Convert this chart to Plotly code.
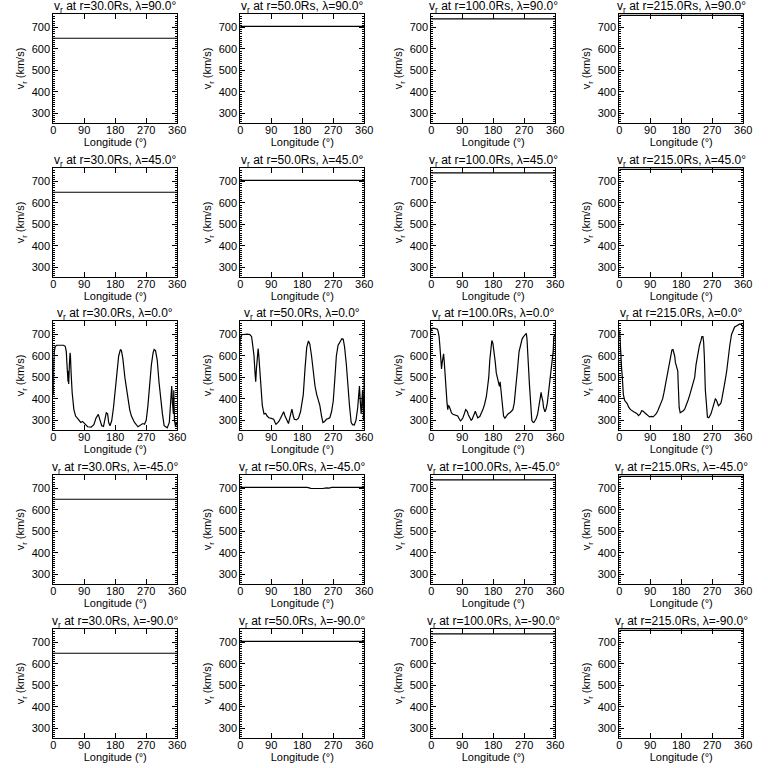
import plotly.graph_objects as go

radii = ["30.0", "50.0", "100.0", "215.0"]
lats = ["90.0", "45.0", "0.0", "-45.0", "-90.0"]

# flat-profile levels (km/s) per radius for the non-equatorial latitudes
flat_lon = [0, 360]
flat_level = {
    "30.0": 650, "50.0": 705, "100.0": 740, "215.0": 757,
}
# slight dip seen at lat -45, r=50
m45_r50_lon = [0, 195, 205, 215, 240, 250, 258, 265, 360]
m45_r50_v = [705, 705, 701, 700, 700, 703, 702, 705, 705]

# equatorial profiles
eq_r30_lon = [0, 0.5, 1.5, 3, 6, 10, 30, 35, 38, 40, 41, 43, 44, 45, 47, 49, 50, 52, 55, 60, 65, 70, 75, 80, 85,
              90, 95, 100, 110, 118, 124, 128, 131, 136, 141, 146, 150, 154, 158, 161, 165, 170, 175, 180, 185, 190,
              195, 198, 202, 208, 212, 217, 222, 227, 236, 246, 255, 260, 265, 270, 275, 280, 285, 290, 293, 297,
              302, 307, 312, 317, 322, 331, 337, 341, 344, 346, 349, 350, 352, 355, 358, 360]
eq_r30_v = [500, 420, 560, 620, 645, 650, 650, 645, 620, 560, 500, 480, 530, 470, 560, 615, 600, 520, 430, 350, 320,
            310, 300, 290, 295, 285, 280, 270, 268, 280, 310, 325, 328, 300, 275, 272, 300, 335, 330, 290, 275, 300,
            360, 430, 520, 600, 630, 625, 590, 500, 450, 400, 350, 320, 290, 270, 280, 285, 282, 300, 370, 470, 560,
            615, 630, 625, 580, 480, 400, 330, 275, 265, 290, 370, 460, 380, 330, 440, 300, 270, 290, 280]

eq_r50_lon = [0, 0.5, 1.5, 3, 6, 10, 20, 28, 33, 37, 40, 43, 45, 47, 50, 52, 54, 57, 59, 62, 64, 69, 74, 78, 83,
              88, 93, 97, 101, 104, 108, 112, 117, 122, 126, 130, 136, 140, 145, 150, 154, 157, 163, 169, 175, 179,
              183, 188, 193, 198, 202, 207, 212, 217, 222, 226, 231, 236, 240, 245, 250, 255, 260, 265, 270, 274,
              279, 284, 290, 295, 299, 303, 308, 312, 317, 322, 326, 331, 336, 341, 344, 346, 348, 351, 353, 355,
              357, 358, 359, 360]
eq_r50_v = [650, 690, 680, 695, 700, 700, 702, 700, 690, 640, 600, 520, 480, 540, 630, 635, 600, 530, 470, 410, 370,
            330, 332, 320, 312, 310, 308, 305, 290, 282, 288, 295, 310, 330, 340, 320, 295, 285, 320, 352, 320, 305,
            302, 310, 340, 380, 420, 540, 640, 670, 655, 600, 520, 460, 420, 395, 370, 320, 290, 295, 305, 308, 312,
            340, 390, 480, 600, 650, 668, 680, 678, 640, 560, 450, 370, 290, 280, 278, 300, 360, 430, 460, 400, 330,
            380, 440, 350, 300, 360, 510]

eq_r100_lon = [0, 2, 6, 12, 18, 20, 23, 25, 27, 30, 32, 34, 36, 38, 39, 41, 43, 46, 48, 50, 53, 55, 59, 63, 68, 73,
               77, 82, 85, 88, 92, 96, 100, 103, 105, 108, 112, 116, 119, 123, 128, 132, 135, 141, 145, 150, 155, 160,
               164, 167, 170, 173, 176, 179, 182, 186, 189, 192, 194, 196, 198, 200, 202, 205, 208, 210, 214, 218,
               223, 230, 237, 241, 246, 250, 255, 260, 264, 268, 273, 276, 278, 280, 282, 285, 287, 290, 292, 295,
               298, 301, 305, 309, 313, 316, 319, 321, 324, 326, 328, 330, 333, 337, 342, 346, 351, 354, 356, 358,
               360]
eq_r100_v = [715, 728, 730, 728, 725, 715, 690, 650, 600, 540, 570, 600, 610, 570, 540, 500, 450, 380, 350, 370,
             362, 350, 335, 328, 325, 322, 320, 305, 298, 302, 312, 330, 350, 345, 340, 325, 310, 300, 305, 325, 342,
             325, 312, 318, 330, 350, 375, 410, 460, 500, 580, 640, 672, 660, 630, 570, 520, 495, 480, 470, 458, 480,
             440, 400, 360, 320, 310, 318, 330, 338, 350, 380, 450, 530, 620, 660, 680, 690, 700, 705, 680, 640, 560,
             470, 400, 340, 300, 292, 290, 298, 310, 330, 370, 400, 430, 410, 390, 360, 340, 340, 350, 380, 450, 500,
             560, 620, 690, 700, 700]

eq_r215_lon = [0, 1, 2, 3, 5, 7, 9, 12, 16, 23, 28, 33, 42, 51, 56, 61, 65, 70, 74, 79, 84, 88, 93, 98, 102, 107,
               112, 116, 121, 126, 130, 135, 140, 145, 149, 153, 156, 158, 161, 163, 166, 170, 171, 172, 174, 177,
               181, 186, 190, 195, 200, 205, 210, 214, 219, 223, 228, 233, 237, 240, 243, 245, 247, 248, 250, 253,
               256, 260, 263, 266, 270, 273, 276, 279, 282, 284, 286, 288, 291, 295, 298, 302, 307, 312, 316, 321,
               326, 330, 335, 340, 345, 349, 353, 356, 358, 360]
eq_r215_v = [700, 715, 690, 640, 600, 540, 500, 420, 392, 378, 360, 350, 340, 332, 322, 330, 345, 342, 335, 328,
             318, 316, 318, 316, 322, 330, 345, 360, 380, 400, 430, 470, 520, 560, 600, 628, 630, 620, 600, 570, 550,
             530, 480, 410, 360, 335, 338, 345, 352, 370, 395, 420, 450, 470, 500, 560, 610, 650, 670, 690, 690, 665,
             600, 500, 440, 380, 315, 312, 320, 330, 350, 365, 380, 400, 395, 385, 370, 368, 372, 380, 400, 430, 480,
             530, 600, 650, 700, 720, 735, 740, 745, 748, 748, 745, 740, 730]

eq_data = {
    "30.0": (eq_r30_lon, eq_r30_v),
    "50.0": (eq_r50_lon, eq_r50_v),
    "100.0": (eq_r100_lon, eq_r100_v),
    "215.0": (eq_r215_lon, eq_r215_v),
}

x_ticks = [0, 90, 180, 270, 360]
y_ticks = [300, 400, 500, 600, 700]
y_range = [255, 763]

# panel pixel geometry (window pixels)
col_left = [51, 241, 435, 626]
col_w = 126
row_top = [14, 168, 321, 475, 629]
row_h = 109
W = H = 768

FONT = "Liberation Sans"
fig = go.Figure()

k = 0
for i, lat in enumerate(lats):
    for j, r in enumerate(radii):
        k += 1
        xa = "x" if k == 1 else f"x{k}"
        ya = "y" if k == 1 else f"y{k}"
        if lat == "0.0":
            lon, v = eq_data[r]
        elif lat == "-45.0" and r == "50.0":
            lon, v = m45_r50_lon, m45_r50_v
        else:
            lon, v = flat_lon, [flat_level[r]] * len(flat_lon)
        fig.add_trace(go.Scatter(x=lon, y=v, mode="lines", xaxis=xa, yaxis=ya,
                                 line=dict(color="black", width=1.2), showlegend=False,
                                 hoverinfo="skip"))
        x0 = col_left[j] / W
        x1 = (col_left[j] + col_w) / W
        y1 = 1 - row_top[i] / H
        y0 = 1 - (row_top[i] + row_h) / H
        axkey = "xaxis" if k == 1 else f"xaxis{k}"
        aykey = "yaxis" if k == 1 else f"yaxis{k}"
        fig.layout[axkey] = dict(
            domain=[x0, x1], anchor=ya, range=[0, 360], tickvals=x_ticks,
            ticktext=[str(t) for t in x_ticks], ticks="inside", ticklen=5, tickcolor="black",
            showline=True, linecolor="black", linewidth=1, mirror="ticks", showgrid=False,
            zeroline=False, tickfont=dict(family=FONT, size=11, color="black"),
            ticklabelstandoff=-3, fixedrange=True,
            title=dict(text="Longitude (°)", font=dict(family=FONT, size=11, color="black"), standoff=0),
        )
        fig.layout[aykey] = dict(
            domain=[y0, y1], anchor=xa, range=y_range, tickvals=y_ticks,
            ticks="inside", ticklen=5, tickcolor="black", fixedrange=True,
            minor=dict(ticks="inside", ticklen=2, dtick=10, tick0=0, tickcolor="black", showgrid=False),
            showline=True, linecolor="black", linewidth=1, mirror="ticks", showgrid=False,
            zeroline=False, tickfont=dict(family=FONT, size=11, color="black"),
            title=dict(text="v<sub>r</sub> (km/s)", font=dict(family=FONT, size=11, color="black"), standoff=4),
        )
        fig.add_annotation(
            text=f"v<sub>r</sub> at r={r}Rs, λ={lat}°", xref="paper", yref="paper",
            x=(x0 + x1) / 2, y=1 - (row_top[i] - 7) / H, xanchor="center", yanchor="middle",
            borderpad=0, showarrow=False, font=dict(family=FONT, size=12, color="black"),
        )

fig.update_layout(width=W, height=H, margin=dict(l=0, r=0, t=0, b=0),
                  paper_bgcolor="white", plot_bgcolor="white")
fig.write_html("out.html", config={"displayModeBar": False},
               post_script="document.body.style.margin='0';document.body.style.overflow='hidden';")
